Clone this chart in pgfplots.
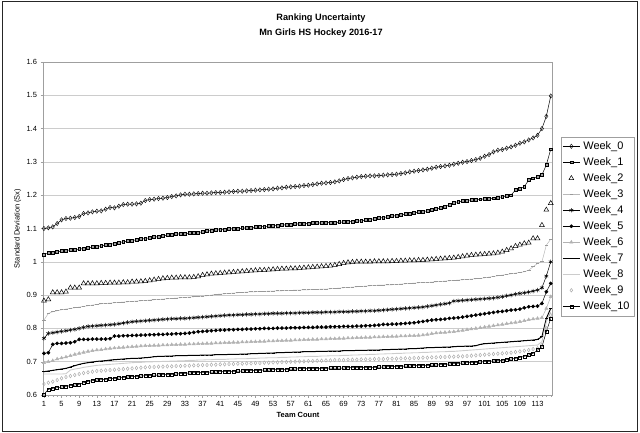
\documentclass[border=0pt]{standalone}
\usepackage{fontspec}
\setmainfont{Liberation Sans}
\usepackage{pgfplots}
\usepackage{pgfplotstable}
\pgfplotsset{compat=1.18}
\pgfplotstableread{
t w0 w1 w2 w3 w4 w5 w6 w7 w8 w9 w10
1 1.100 1.022 0.883 0.825 0.770 0.725 0.697 0.670 0.663 0.633 0.602
2 1.102 1.026 0.887 0.845 0.785 0.727 0.700 0.672 0.663 0.637 0.617
3 1.105 1.028 0.908 0.850 0.787 0.752 0.703 0.674 0.663 0.640 0.620
4 1.115 1.030 0.908 0.853 0.789 0.755 0.708 0.676 0.663 0.645 0.622
5 1.126 1.032 0.908 0.856 0.791 0.755 0.711 0.678 0.663 0.650 0.624
6 1.130 1.034 0.910 0.858 0.793 0.756 0.714 0.680 0.664 0.654 0.626
7 1.131 1.036 0.922 0.860 0.795 0.757 0.718 0.684 0.675 0.657 0.628
8 1.133 1.037 0.922 0.862 0.797 0.760 0.722 0.688 0.678 0.660 0.630
9 1.136 1.038 0.922 0.864 0.800 0.767 0.725 0.692 0.680 0.663 0.632
10 1.145 1.040 0.935 0.866 0.803 0.767 0.728 0.695 0.683 0.666 0.637
11 1.147 1.042 0.935 0.868 0.806 0.767 0.731 0.697 0.685 0.668 0.641
12 1.150 1.044 0.935 0.870 0.807 0.768 0.733 0.699 0.687 0.670 0.643
13 1.152 1.046 0.935 0.872 0.808 0.768 0.735 0.701 0.689 0.672 0.645
14 1.153 1.048 0.936 0.874 0.809 0.768 0.736 0.702 0.690 0.673 0.646
15 1.158 1.050 0.936 0.875 0.810 0.768 0.738 0.703 0.691 0.674 0.647
16 1.163 1.052 0.937 0.876 0.811 0.769 0.740 0.705 0.692 0.675 0.649
17 1.162 1.055 0.937 0.877 0.812 0.777 0.741 0.706 0.693 0.676 0.650
18 1.167 1.058 0.937 0.878 0.814 0.777 0.742 0.707 0.694 0.677 0.651
19 1.172 1.060 0.938 0.879 0.816 0.778 0.743 0.708 0.695 0.678 0.653
20 1.173 1.062 0.938 0.880 0.818 0.778 0.744 0.709 0.696 0.679 0.654
21 1.173 1.064 0.940 0.881 0.820 0.779 0.745 0.710 0.697 0.680 0.655
22 1.174 1.066 0.940 0.882 0.821 0.779 0.746 0.710 0.698 0.681 0.656
23 1.176 1.068 0.941 0.883 0.822 0.780 0.747 0.711 0.698 0.682 0.657
24 1.184 1.070 0.942 0.884 0.823 0.780 0.748 0.712 0.699 0.683 0.658
25 1.187 1.072 0.944 0.885 0.824 0.781 0.748 0.713 0.699 0.684 0.659
26 1.188 1.074 0.946 0.886 0.825 0.781 0.749 0.715 0.700 0.684 0.660
27 1.190 1.076 0.948 0.887 0.826 0.782 0.749 0.716 0.700 0.685 0.660
28 1.191 1.078 0.950 0.888 0.827 0.782 0.750 0.716 0.701 0.685 0.661
29 1.193 1.080 0.951 0.889 0.828 0.783 0.750 0.717 0.701 0.686 0.661
30 1.196 1.082 0.952 0.890 0.829 0.783 0.751 0.717 0.702 0.686 0.662
31 1.198 1.083 0.952 0.891 0.829 0.784 0.751 0.718 0.702 0.687 0.663
32 1.201 1.084 0.953 0.892 0.830 0.784 0.752 0.718 0.703 0.687 0.664
33 1.203 1.085 0.953 0.893 0.830 0.785 0.752 0.718 0.703 0.688 0.665
34 1.203 1.086 0.953 0.894 0.831 0.786 0.753 0.719 0.704 0.688 0.666
35 1.204 1.087 0.954 0.895 0.832 0.788 0.753 0.719 0.704 0.689 0.667
36 1.205 1.088 0.956 0.896 0.833 0.790 0.754 0.719 0.705 0.689 0.667
37 1.206 1.090 0.960 0.897 0.834 0.791 0.754 0.720 0.705 0.690 0.668
38 1.206 1.092 0.962 0.898 0.835 0.792 0.755 0.720 0.706 0.690 0.668
39 1.207 1.094 0.964 0.900 0.836 0.793 0.755 0.720 0.706 0.691 0.669
40 1.208 1.095 0.965 0.902 0.837 0.794 0.756 0.721 0.707 0.691 0.669
41 1.208 1.096 0.966 0.903 0.838 0.795 0.756 0.721 0.707 0.692 0.670
42 1.209 1.097 0.967 0.904 0.839 0.795 0.757 0.721 0.707 0.692 0.670
43 1.210 1.098 0.968 0.905 0.840 0.796 0.757 0.722 0.708 0.693 0.671
44 1.211 1.099 0.969 0.906 0.840 0.796 0.758 0.722 0.708 0.693 0.671
45 1.212 1.100 0.970 0.907 0.841 0.797 0.758 0.722 0.709 0.694 0.672
46 1.212 1.101 0.971 0.908 0.841 0.797 0.759 0.723 0.709 0.694 0.672
47 1.213 1.102 0.972 0.909 0.842 0.798 0.759 0.723 0.709 0.695 0.673
48 1.214 1.103 0.973 0.910 0.842 0.798 0.760 0.724 0.710 0.695 0.673
49 1.215 1.104 0.974 0.910 0.843 0.799 0.760 0.724 0.710 0.696 0.674
50 1.216 1.105 0.975 0.911 0.843 0.799 0.761 0.725 0.711 0.696 0.674
51 1.217 1.106 0.975 0.911 0.844 0.800 0.761 0.725 0.711 0.697 0.675
52 1.218 1.107 0.976 0.912 0.844 0.800 0.762 0.726 0.712 0.697 0.675
53 1.219 1.108 0.977 0.912 0.845 0.800 0.762 0.726 0.712 0.698 0.676
54 1.221 1.109 0.978 0.913 0.845 0.801 0.763 0.727 0.712 0.698 0.676
55 1.222 1.110 0.979 0.913 0.845 0.801 0.763 0.727 0.713 0.699 0.677
56 1.224 1.111 0.979 0.914 0.846 0.801 0.764 0.728 0.713 0.699 0.677
57 1.225 1.112 0.980 0.914 0.846 0.802 0.764 0.728 0.714 0.700 0.678
58 1.226 1.113 0.980 0.915 0.846 0.802 0.765 0.729 0.714 0.700 0.678
59 1.227 1.114 0.981 0.915 0.847 0.802 0.765 0.729 0.715 0.701 0.679
60 1.229 1.115 0.982 0.916 0.847 0.803 0.766 0.730 0.715 0.701 0.679
61 1.230 1.115 0.983 0.916 0.847 0.803 0.766 0.730 0.716 0.702 0.679
62 1.232 1.116 0.984 0.917 0.848 0.803 0.767 0.730 0.716 0.702 0.680
63 1.234 1.116 0.985 0.917 0.848 0.804 0.767 0.731 0.716 0.703 0.680
64 1.236 1.117 0.986 0.918 0.848 0.804 0.768 0.731 0.717 0.703 0.680
65 1.237 1.117 0.987 0.918 0.849 0.804 0.768 0.731 0.717 0.704 0.680
66 1.238 1.118 0.988 0.919 0.849 0.805 0.769 0.732 0.718 0.704 0.681
67 1.240 1.118 0.990 0.920 0.849 0.805 0.769 0.732 0.718 0.705 0.681
68 1.243 1.119 0.993 0.921 0.850 0.805 0.770 0.732 0.718 0.705 0.681
69 1.247 1.119 0.996 0.922 0.850 0.806 0.770 0.733 0.719 0.705 0.681
70 1.250 1.120 0.998 0.923 0.850 0.806 0.771 0.733 0.719 0.706 0.682
71 1.252 1.121 0.999 0.924 0.851 0.806 0.771 0.733 0.720 0.706 0.682
72 1.254 1.122 1.000 0.925 0.851 0.807 0.772 0.734 0.720 0.706 0.682
73 1.256 1.123 1.000 0.926 0.852 0.807 0.772 0.734 0.721 0.707 0.682
74 1.257 1.125 1.000 0.927 0.852 0.808 0.773 0.734 0.721 0.707 0.683
75 1.258 1.127 1.000 0.928 0.853 0.808 0.773 0.735 0.722 0.707 0.683
76 1.258 1.129 1.001 0.929 0.853 0.809 0.774 0.735 0.722 0.708 0.683
77 1.259 1.131 1.001 0.930 0.854 0.810 0.774 0.735 0.723 0.708 0.684
78 1.260 1.133 1.001 0.930 0.855 0.812 0.775 0.736 0.723 0.708 0.684
79 1.261 1.135 1.001 0.931 0.856 0.812 0.775 0.736 0.724 0.709 0.685
80 1.262 1.137 1.002 0.931 0.857 0.813 0.776 0.737 0.724 0.709 0.685
81 1.263 1.139 1.002 0.932 0.858 0.813 0.776 0.737 0.725 0.709 0.686
82 1.265 1.141 1.003 0.933 0.859 0.814 0.777 0.738 0.725 0.710 0.686
83 1.267 1.143 1.003 0.934 0.860 0.815 0.777 0.738 0.726 0.710 0.687
84 1.270 1.145 1.004 0.935 0.861 0.816 0.778 0.739 0.726 0.710 0.687
85 1.272 1.147 1.004 0.936 0.862 0.817 0.778 0.739 0.727 0.711 0.688
86 1.274 1.149 1.005 0.937 0.863 0.819 0.779 0.740 0.727 0.711 0.688
87 1.276 1.151 1.005 0.938 0.864 0.821 0.780 0.741 0.728 0.712 0.689
88 1.278 1.153 1.006 0.938 0.866 0.823 0.782 0.742 0.728 0.712 0.689
89 1.281 1.155 1.007 0.939 0.868 0.825 0.784 0.742 0.729 0.713 0.690
90 1.284 1.158 1.008 0.940 0.870 0.826 0.786 0.743 0.729 0.713 0.690
91 1.286 1.162 1.009 0.941 0.872 0.827 0.787 0.743 0.730 0.714 0.691
92 1.288 1.166 1.010 0.942 0.874 0.828 0.788 0.744 0.730 0.714 0.692
93 1.290 1.170 1.011 0.943 0.876 0.830 0.789 0.744 0.731 0.715 0.693
94 1.293 1.178 1.012 0.944 0.882 0.831 0.790 0.745 0.731 0.715 0.694
95 1.296 1.180 1.014 0.945 0.883 0.832 0.792 0.746 0.732 0.716 0.695
96 1.299 1.182 1.016 0.946 0.884 0.834 0.794 0.746 0.733 0.716 0.696
97 1.301 1.184 1.018 0.947 0.885 0.836 0.796 0.747 0.734 0.717 0.697
98 1.304 1.186 1.020 0.948 0.886 0.838 0.798 0.747 0.735 0.718 0.698
99 1.307 1.187 1.021 0.949 0.887 0.840 0.800 0.748 0.736 0.719 0.698
100 1.311 1.188 1.022 0.950 0.888 0.842 0.802 0.752 0.737 0.720 0.699
101 1.317 1.189 1.023 0.952 0.889 0.844 0.804 0.754 0.738 0.721 0.700
102 1.322 1.190 1.024 0.954 0.890 0.846 0.806 0.755 0.739 0.722 0.701
103 1.330 1.191 1.025 0.956 0.891 0.848 0.808 0.756 0.740 0.723 0.702
104 1.335 1.193 1.027 0.958 0.893 0.850 0.810 0.757 0.741 0.724 0.703
105 1.337 1.195 1.030 0.960 0.895 0.851 0.812 0.758 0.742 0.725 0.704
106 1.341 1.198 1.035 0.962 0.898 0.853 0.814 0.759 0.743 0.726 0.706
107 1.345 1.200 1.040 0.964 0.900 0.855 0.816 0.760 0.744 0.727 0.708
108 1.350 1.216 1.047 0.966 0.903 0.856 0.818 0.761 0.745 0.729 0.710
109 1.356 1.220 1.051 0.968 0.905 0.858 0.820 0.762 0.746 0.731 0.713
110 1.360 1.225 1.055 0.970 0.907 0.862 0.823 0.763 0.747 0.733 0.716
111 1.366 1.246 1.057 0.975 0.909 0.865 0.826 0.764 0.748 0.735 0.720
112 1.372 1.251 1.070 0.985 0.912 0.866 0.828 0.765 0.749 0.738 0.725
113 1.380 1.256 1.070 0.995 0.915 0.867 0.830 0.767 0.750 0.740 0.735
114 1.400 1.261 1.110 1.000 0.922 0.875 0.832 0.775 0.760 0.750 0.745
115 1.437 1.291 1.156 1.050 0.957 0.910 0.860 0.830 0.820 0.800 0.790
116 1.498 1.338 1.176 1.068 1.000 0.935 0.895 0.860 0.850 0.840 0.830
}\data
\begin{document}
\begin{tikzpicture}
\path[use as bounding box] (0,0) rectangle (640bp,433bp);
\draw[black!85, line width=1pt] (2.5bp,2bp) rectangle (637.5bp,431bp);
\node[font=\bfseries\fontsize{9.2}{11}\selectfont] at (321bp,415bp) {Ranking Uncertainty};
\node[font=\bfseries\fontsize{9.2}{11}\selectfont] at (321bp,400bp) {Mn Girls HS Hockey 2016-17};
\begin{axis}[
  at={(43.5bp,38bp)}, anchor=south west,
  scale only axis, width=509bp, height=333bp,
  xmin=0.9, xmax=116.4, ymin=0.6, ymax=1.6,
  xtick={1,5,...,113}, minor xtick={1,...,116},
  ytick={0.6,0.7,0.8,0.9,1,1.1,1.2,1.3,1.4,1.5,1.6},
  ymajorgrids, major grid style={gray!40, line width=0.5pt},
  axis line style={gray!75, line width=0.6pt},
  tick align=outside, xtick pos=bottom, ytick pos=left,
  major tick length=3bp, minor tick length=2bp,
  tick style={gray!75, line width=0.4pt},
  ticklabel style={font=\fontsize{7.5}{9}\selectfont},
  /pgf/number format/assume math mode=true,
  xlabel={\bfseries Team Count},
  ylabel={Standard Deviation (Sx)},
  label style={font=\fontsize{7.5}{9}\selectfont},
  xlabel style={yshift=1bp},
  ylabel style={yshift=-1.5bp},
  legend style={at={(1.016,0.776)}, anchor=north west, draw=gray!75,
    font=\fontsize{11}{13}\selectfont, inner sep=1.5bp,
    nodes={text height=8bp, text depth=2bp, inner sep=3bp}},
  legend cell align=left,
  every axis plot/.append style={line width=0.5pt},
]
\addplot[black, mark=diamond, mark size=2.2, mark options={fill=white, solid, line width=0.4pt}] table[x=t, y=w0] {\data};
\addlegendentry{Week\_0}
\addplot[black, mark=square*, mark size=1.45, mark options={fill=gray!75, line width=0.5pt}] table[x=t, y=w1] {\data};
\addlegendentry{Week\_1}
\addplot[black, only marks, mark=triangle, mark size=2.8, mark options={line width=0.5pt}] table[x=t, y=w2] {\data};
\addlegendentry{Week\_2}
\addplot[gray!55, mark=-, mark size=1.8, mark options={draw=gray!80, line width=0.8pt}] table[x=t, y=w3] {\data};
\addlegendentry{Week\_3}
\addplot[black, mark=asterisk, mark size=2.2, mark options={line width=0.5pt}] table[x=t, y=w4] {\data};
\addlegendentry{Week\_4}
\addplot[black, mark=*, mark size=1.6] table[x=t, y=w5] {\data};
\addlegendentry{Week\_5}
\addplot[gray!60, mark=triangle*, mark size=1.8, mark options={fill=gray!60}] table[x=t, y=w6] {\data};
\addlegendentry{Week\_6}
\addplot[black, line width=1pt, mark=-, mark size=1.5] table[x=t, y=w7] {\data};
\addlegendentry{Week\_7}
\addplot[gray!40, line width=0.9pt] table[x=t, y=w8] {\data};
\addlegendentry{Week\_8}
\addplot[gray!65, only marks, mark=diamond, mark size=1.8, mark options={line width=0.5pt}] table[x=t, y=w9] {\data};
\addlegendentry{Week\_9}
\addplot[black, mark=square, mark size=1.5, mark options={fill=white, line width=0.5pt}] table[x=t, y=w10] {\data};
\addlegendentry{Week\_10}
\end{axis}
\end{tikzpicture}
\end{document}
